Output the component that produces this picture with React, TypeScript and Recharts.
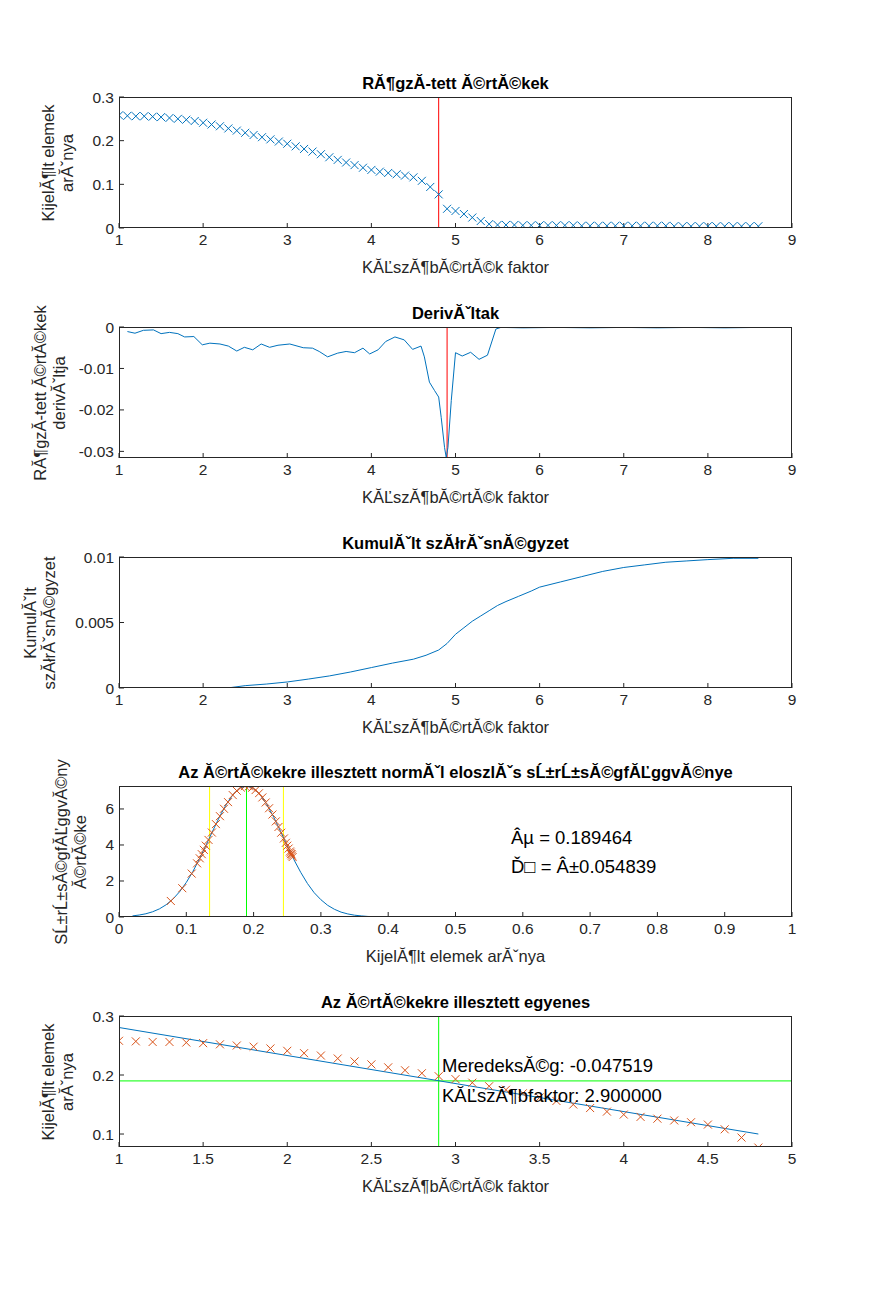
import React from "react";
import { ComposedChart, Line, Scatter, XAxis, YAxis, ReferenceLine } from "recharts";

const FONT = "'Liberation Sans', Arial, sans-serif";

// Panel 1 data
const p1X = [1.0,1.1,1.2,1.3,1.4,1.5,1.6,1.7,1.8,1.9,2.0,2.1,2.2,2.3,2.4,2.5,2.6,2.7,2.8,2.9,3.0,3.1,3.2,3.3,3.4,3.5,3.6,3.7,3.8,3.9,4.0,4.1,4.2,4.3,4.4,4.5,4.6,4.7,4.8,4.9,5.0,5.1,5.2,5.3,5.4,5.5,5.6,5.7,5.8,5.9,6.0,6.1,6.2,6.3,6.4,6.5,6.6,6.7,6.8,6.9,7.0,7.1,7.2,7.3,7.4,7.5,7.6,7.7,7.8,7.9,8.0,8.1,8.2,8.3,8.4,8.5,8.6];
const p1Y = [0.258,0.257,0.256,0.256,0.255,0.254,0.252,0.25,0.248,0.245,0.241,0.237,0.233,0.228,0.223,0.218,0.213,0.208,0.203,0.198,0.193,0.187,0.181,0.175,0.169,0.162,0.156,0.15,0.144,0.138,0.133,0.129,0.126,0.123,0.12,0.116,0.108,0.094,0.077,0.044,0.039,0.032,0.024,0.016,0.009,0.007,0.007,0.007,0.006,0.006,0.006,0.006,0.006,0.006,0.006,0.005,0.005,0.005,0.005,0.005,0.005,0.005,0.005,0.005,0.005,0.005,0.004,0.004,0.004,0.004,0.004,0.004,0.004,0.004,0.004,0.004,0.004];
const p1Threshold = 4.8;

// Panel 2 derivative
const p2X = [1.1,1.19,1.29,1.41,1.5,1.6,1.7,1.78,1.89,1.99,2.08,2.2,2.3,2.4,2.49,2.59,2.69,2.79,2.89,3.03,3.19,3.3,3.38,3.48,3.6,3.7,3.8,3.9,3.98,4.08,4.17,4.28,4.39,4.49,4.59,4.63,4.69,4.75,4.8,4.83,4.87,4.89,4.91,4.95,5.0,5.08,5.18,5.28,5.38,5.48,5.54,5.8,6.2,6.6,7.0,7.4,7.8,8.2,8.6];
const p2Y = [-0.0011,-0.0015,-0.0008,-0.0007,-0.0016,-0.0013,-0.0016,-0.0024,-0.0023,-0.0043,-0.0039,-0.0041,-0.0046,-0.0058,-0.0049,-0.0055,-0.0041,-0.0049,-0.0044,-0.0041,-0.005,-0.0051,-0.0059,-0.0072,-0.0063,-0.0059,-0.0062,-0.0051,-0.0065,-0.0055,-0.0035,-0.0024,-0.0031,-0.0054,-0.0046,-0.0072,-0.0133,-0.0153,-0.0169,-0.0218,-0.0291,-0.0315,-0.0291,-0.0177,-0.0062,-0.007,-0.0061,-0.0078,-0.0068,-0.0005,-0.0001,-0.0002,-0.0001,-0.0002,-0.0001,-0.0002,-0.0001,-0.0002,-0.0001];
const p2Threshold = 4.9;

// Panel 3 cumulative
const p3X = [1.0,1.5,2.0,2.2,2.3,2.5,2.75,3.0,3.25,3.5,3.75,4.0,4.25,4.5,4.65,4.8,4.9,5.0,5.1,5.2,5.3,5.4,5.5,5.6,5.75,5.9,6.0,6.25,6.5,6.75,7.0,7.25,7.5,7.75,8.0,8.3,8.6];
const p3Y = [0,0,0,0,0.00001,0.00018,0.0003,0.00046,0.00068,0.00092,0.00122,0.00156,0.0019,0.0022,0.0025,0.0029,0.0034,0.0041,0.0046,0.0051,0.0055,0.0059,0.0063,0.0066,0.007,0.0074,0.0077,0.0081,0.0085,0.0089,0.0092,0.0094,0.0096,0.0097,0.0098,0.0099,0.0099];

// Panel 4 normal pdf
const p4CurveX = [0.02,0.03,0.04,0.05,0.06,0.07,0.08,0.09,0.1,0.11,0.12,0.13,0.14,0.15,0.16,0.17,0.18,0.19,0.2,0.21,0.22,0.23,0.24,0.25,0.26,0.27,0.28,0.29,0.3,0.31,0.32,0.33,0.34,0.35,0.36,0.37,0.38,0.4,0.5,0.6,0.7,0.8,0.9,1.0];
const p4CurveY = [0.06,0.11,0.18,0.29,0.45,0.68,0.99,1.4,1.92,2.54,3.26,4.04,4.84,5.61,6.29,6.83,7.17,7.27,7.14,6.78,6.23,5.54,4.76,3.96,3.18,2.48,1.86,1.35,0.96,0.65,0.43,0.27,0.17,0.1,0.06,0.03,0.02,0.005,0,0,0,0,0,0];
const p4PtsX = [0.258,0.257,0.256,0.256,0.255,0.254,0.252,0.25,0.248,0.245,0.241,0.237,0.233,0.228,0.223,0.218,0.213,0.208,0.203,0.198,0.193,0.187,0.181,0.175,0.169,0.162,0.156,0.15,0.144,0.138,0.133,0.129,0.126,0.123,0.12,0.116,0.108,0.094,0.077];
const p4PtsY = [3.33,3.41,3.49,3.49,3.57,3.64,3.8,3.96,4.12,4.36,4.68,5.0,5.31,5.69,6.04,6.36,6.64,6.87,7.05,7.18,7.26,7.27,7.19,7.01,6.77,6.38,6.01,5.6,5.16,4.69,4.28,3.96,3.73,3.49,3.26,2.98,2.41,1.6,0.89];
const p4Mu = 0.189464;
const p4Lo = 0.1346;
const p4Hi = 0.2443;

// Panel 5 fit
const p5LineX = [1, 4.8];
const p5LineY = [0.2805, 0.1];
const p5Vert = 2.9;
const p5Horiz = 0.19;

const zip = (xs: number[], ys: number[]) => xs.map((x, i) => ({ x, y: ys[i] }));

const Cross = (color: string, r: number) => (props: any) => {
  const { cx, cy } = props;
  return (
    <path d={`M${cx - r},${cy - r}L${cx + r},${cy + r}M${cx - r},${cy + r}L${cx + r},${cy - r}`} stroke={color} strokeWidth={1} fill="none" />
  );
};

const L = 111, R = 784, PW = 673, PH = 131;
const tickStyle = { fontSize: 15.5, fill: "#262626", fontFamily: FONT };

function Panel({ top, xDomain, xTicks, yDomain, yTicks, children, title, xLabel, yLines, yLabelX }: any) {
  const mt = 10;
  return (
    <>
      <div style={{ position: "absolute", left: 0, top: top - mt }}>
        <ComposedChart width={875} height={PH + mt + 30} margin={{ top: mt, right: 875 - R, bottom: 0, left: L - 50 }}>
          <XAxis type="number" dataKey="x" domain={xDomain} ticks={xTicks} allowDataOverflow axisLine={false} tickSize={-5} tickMargin={11} stroke="#262626" tick={tickStyle} height={30} interval={0} />
          <YAxis type="number" dataKey="y" domain={yDomain} ticks={yTicks} allowDataOverflow axisLine={false} tickSize={-5} tickMargin={10} stroke="#262626" tick={tickStyle} width={50} interval={0} />
          {children}
        </ComposedChart>
      </div>
      <div style={{ position: "absolute", left: L, top, width: PW, height: PH, border: "1px solid #262626", boxSizing: "border-box", pointerEvents: "none" }} />
      <div style={{ position: "absolute", left: L, width: PW, top: top - 23, textAlign: "center", fontWeight: "bold", fontSize: 16.5, color: "#000", whiteSpace: "nowrap" }}>{title}</div>
      <div style={{ position: "absolute", left: L, width: PW, top: top + PH + 30, textAlign: "center", fontSize: 16.5, color: "#262626", whiteSpace: "nowrap" }}>{xLabel}</div>
      <div style={{ position: "absolute", left: yLabelX, top: top + PH / 2, transform: "translate(-50%,-50%) rotate(-90deg)", textAlign: "center", fontSize: 16.5, lineHeight: "19px", color: "#262626", whiteSpace: "nowrap" }}>
        {yLines.map((s: string, i: number) => <div key={i}>{s}</div>)}
      </div>
    </>
  );
}

const x19 = [1, 2, 3, 4, 5, 6, 7, 8, 9];

export default function App() {
  return (
    <div style={{ position: "relative", width: 875, height: 1281, fontFamily: FONT, background: "#fff" }}>
      <Panel top={89} xDomain={[1, 9]} xTicks={x19} yDomain={[0, 0.3]} yTicks={[0, 0.1, 0.2, 0.3]}
        title="RĂ¶gzĂ-tett Ă©rtĂ©kek" xLabel="KĂĽszĂ¶bĂ©rtĂ©k faktor" yLines={["KijelĂ¶lt elemek", "arĂˇnya"]} yLabelX={50}>
        <Scatter data={zip(p1X, p1Y)} shape={Cross("#0072BD", 4)} isAnimationActive={false} />
        <ReferenceLine x={p1Threshold} stroke="#FF0000" />
      </Panel>
      <Panel top={319} xDomain={[1, 9]} xTicks={x19} yDomain={[-0.0316, 0]} yTicks={[-0.03, -0.02, -0.01, 0]}
        title="DerivĂˇltak" xLabel="KĂĽszĂ¶bĂ©rtĂ©k faktor" yLines={["RĂ¶gzĂ-tett Ă©rtĂ©kek", "derivĂˇltja"]} yLabelX={42}>
        <ReferenceLine x={p2Threshold} stroke="#FF0000" />
        <Line data={zip(p2X, p2Y)} dataKey="y" stroke="#0072BD" dot={false} strokeWidth={1} isAnimationActive={false} />
      </Panel>
      <Panel top={549} xDomain={[1, 9]} xTicks={x19} yDomain={[0, 0.01]} yTicks={[0, 0.005, 0.01]}
        title="KumulĂˇlt szĂłrĂˇsnĂ©gyzet" xLabel="KĂĽszĂ¶bĂ©rtĂ©k faktor" yLines={["KumulĂˇlt", "szĂłrĂˇsnĂ©gyzet"]} yLabelX={32}>
        <Line data={zip(p3X, p3Y)} dataKey="y" stroke="#0072BD" dot={false} strokeWidth={1} isAnimationActive={false} />
      </Panel>
      <Panel top={778} xDomain={[0, 1]} xTicks={[0, 0.1, 0.2, 0.3, 0.4, 0.5, 0.6, 0.7, 0.8, 0.9, 1]} yDomain={[0, 7.275]} yTicks={[0, 2, 4, 6]}
        title="Az Ă©rtĂ©kekre illesztett normĂˇl eloszlĂˇs sĹ±rĹ±sĂ©gfĂĽggvĂ©nye" xLabel="KijelĂ¶lt elemek arĂˇnya" yLines={["SĹ±rĹ±sĂ©gfĂĽggvĂ©ny", "Ă©rtĂ©ke"]} yLabelX={63}>
        <ReferenceLine x={p4Lo} stroke="#FFFF00" />
        <ReferenceLine x={p4Hi} stroke="#FFFF00" />
        <ReferenceLine x={p4Mu} stroke="#00FF00" />
        <Line data={zip(p4CurveX, p4CurveY)} dataKey="y" stroke="#0072BD" dot={false} strokeWidth={1} isAnimationActive={false} />
        <Scatter data={zip(p4PtsX, p4PtsY)} shape={Cross("#D95319", 4)} isAnimationActive={false} />
      </Panel>
      <div style={{ position: "absolute", left: 503, top: 815, fontSize: 18.5, lineHeight: "29px", color: "#000", whiteSpace: "nowrap" }}>
        <div>Âµ = 0.189464</div>
        <div>Ď□ = Â±0.054839</div>
      </div>
      <Panel top={1008} xDomain={[1, 5]} xTicks={[1, 1.5, 2, 2.5, 3, 3.5, 4, 4.5, 5]} yDomain={[0.078, 0.3]} yTicks={[0.1, 0.2, 0.3]}
        title="Az Ă©rtĂ©kekre illesztett egyenes" xLabel="KĂĽszĂ¶bĂ©rtĂ©k faktor" yLines={["KijelĂ¶lt elemek", "arĂˇnya"]} yLabelX={50}>
        <ReferenceLine x={p5Vert} stroke="#00FF00" />
        <ReferenceLine y={p5Horiz} stroke="#00FF00" />
        <Line data={zip(p5LineX, p5LineY)} dataKey="y" stroke="#0072BD" dot={false} strokeWidth={1} isAnimationActive={false} />
        <Scatter data={zip(p1X.slice(0, 39), p1Y.slice(0, 39))} shape={Cross("#D95319", 4)} isAnimationActive={false} />
      </Panel>
      <div style={{ position: "absolute", left: 434, top: 1043, fontSize: 18.5, lineHeight: "30px", color: "#000", whiteSpace: "nowrap" }}>
        <div>MeredeksĂ©g: -0.047519</div>
        <div>KĂĽszĂ¶bfaktor: 2.900000</div>
      </div>
    </div>
  );
}
